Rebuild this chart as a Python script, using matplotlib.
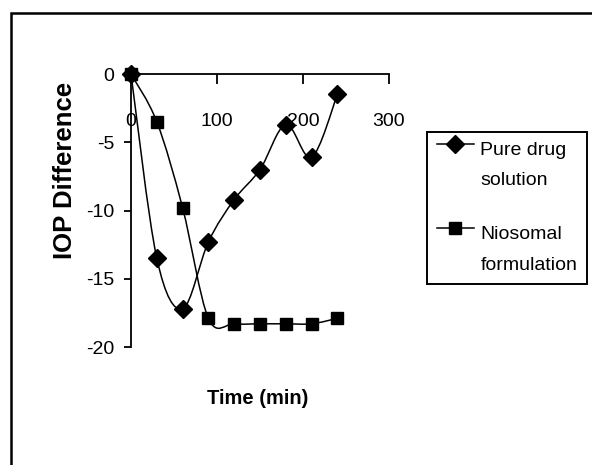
import numpy as np
import matplotlib
matplotlib.use('Agg')
import matplotlib.pyplot as plt
from matplotlib.path import Path
from matplotlib.patches import PathPatch, Rectangle
from matplotlib.lines import Line2D
from matplotlib.legend_handler import HandlerLine2D
import matplotlib.transforms as mtransforms

plt.rcParams['font.family'] = ['Liberation Sans', 'DejaVu Sans']
plt.rcParams['axes.unicode_minus'] = False

# data
time_min = [0, 30, 60, 90, 120, 150, 180, 210, 240]
pure_drug = [0, -13.5, -17.2, -12.3, -9.2, -7.0, -3.7, -6.1, -1.5]
niosomal = [0, -3.5, -9.8, -17.9, -18.3, -18.3, -18.3, -18.3, -17.9]
series_labels = ['Pure drug\nsolution', 'Niosomal\nformulation']
x_ticks = [0, 100, 200, 300]
y_ticks = [0, -5, -10, -15, -20]

LEG_FS = 14
LEG_LINESPACING = 2.05


def smooth_path(x, y):
    # Catmull-Rom style bezier through the points (like a smoothed Excel line)
    pts = np.column_stack([x, y]).astype(float)
    n = len(pts)
    verts = [pts[0]]
    codes = [Path.MOVETO]
    for i in range(n - 1):
        p0 = pts[max(i - 1, 0)]
        p1 = pts[i]
        p2 = pts[i + 1]
        p3 = pts[min(i + 2, n - 1)]
        c1 = p1 + (p2 - p0) / 6.0
        c2 = p2 - (p3 - p1) / 6.0
        verts += [c1, c2, p2]
        codes += [Path.CURVE4] * 3
    return Path(verts, codes)


class FirstLineHandler(HandlerLine2D):
    # put the legend symbol next to the first line of a two-line label
    def create_artists(self, legend, orig_handle, xdescent, ydescent,
                       width, height, fontsize, trans):
        arts = super().create_artists(legend, orig_handle, xdescent, ydescent,
                                      width, height, fontsize, trans)
        shift = mtransforms.Affine2D().translate(0, 0.54 * LEG_LINESPACING * fontsize)
        for a in arts:
            a.set_transform(shift + trans)
        return arts


fig = plt.figure(figsize=(5.92, 4.65), dpi=100)
ax = fig.add_axes([131 / 592, 1 - 347 / 465, 258 / 592, 273 / 465])

markers = ['D', 's']
sizes = [9, 8]
handles = []
for yvals, mk, ms in zip([pure_drug, niosomal], markers, sizes):
    ax.add_patch(PathPatch(smooth_path(time_min, yvals), fill=False,
                           edgecolor='black', linewidth=1.1, clip_on=False))
    ax.plot(time_min, yvals, linestyle='none', marker=mk, markersize=ms,
            color='black', clip_on=False, zorder=3)
    handles.append(Line2D([], [], color='black', linewidth=1.1, marker=mk, markersize=ms))

ax.set_xlim(0, 300)
ax.set_ylim(-20, 0)
ax.set_xticks(x_ticks)
ax.set_yticks(y_ticks)

ax.spines['bottom'].set_position(('data', 0))
ax.spines['top'].set_visible(False)
ax.spines['right'].set_visible(False)
for s in ['bottom', 'left']:
    ax.spines[s].set_linewidth(1.3)

ax.tick_params(axis='x', direction='out', length=7, width=1.3, pad=21, labelsize=14)
ax.tick_params(axis='y', direction='out', length=5, width=1.3, pad=7, labelsize=14)

ax.set_ylabel('IOP Difference', fontsize=18.5, fontweight='bold', va='center')
ax.yaxis.set_label_coords(-0.256, 0.648)
ax.set_xlabel('Time (min)', fontsize=14.5, fontweight='bold', va='center')
ax.xaxis.set_label_coords(0.492, -0.187)

leg = fig.legend(handles, series_labels, loc='upper left',
                 bbox_to_anchor=(427 / 592, 1 - 132 / 465),
                 bbox_transform=fig.transFigure, borderaxespad=0,
                 frameon=True, fancybox=False, shadow=False, edgecolor='black',
                 framealpha=1, fontsize=LEG_FS, handlelength=1.9, handletextpad=0.35,
                 labelspacing=1.9, borderpad=0.5,
                 handler_map={Line2D: FirstLineHandler()})
leg.get_frame().set_linewidth(1.4)
for t in leg.get_texts():
    t.set_linespacing(LEG_LINESPACING)

# outer chart border (only top and left edges fall inside the image)
fig.add_artist(Rectangle((11 / 592, -0.1), 1.2, 1 - 13 / 465 + 0.1,
                         transform=fig.transFigure, fill=False,
                         edgecolor='black', linewidth=1.8, clip_on=False))

plt.savefig('out.png', dpi=100)
